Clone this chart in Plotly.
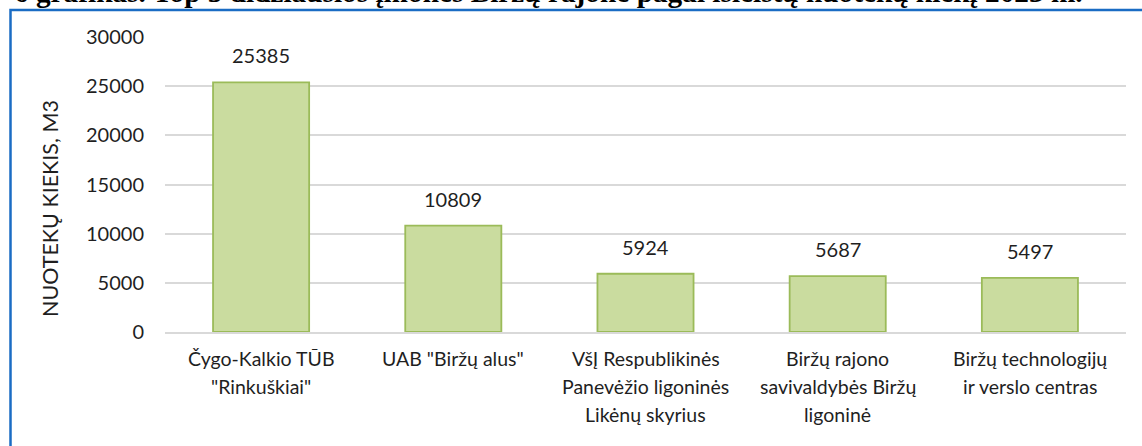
import plotly.graph_objects as go

categories = [
    "Čygo-Kalkio TŪB<br>\"Rinkuškiai\"",
    "UAB \"Biržų alus\"",
    "VšĮ Respublikinės<br>Panevėžio ligoninės<br>Likėnų skyrius",
    "Biržų rajono<br>savivaldybės Biržų<br>ligoninė",
    "Biržų technologijų<br>ir verslo centras",
]
values = [25385, 10809, 5924, 5687, 5497]
y_ticks = [0, 5000, 10000, 15000, 20000, 25000, 30000]
y_ticktext = ["0", "5000", "10000", "15000", "20000", "25000", "30000"]
y_title = "NUOTEKŲ KIEKIS, M3"
caption = "<b>6 grafikas. Top 5 didžiausios įmonės Biržų rajone pagal išleistų nuotekų kiekį 2023 m.</b>"

W, H = 1142, 446
L, R, T, B = 165, 16, 37, 114
pw, ph = W - L - R, H - T - B

def px_x(x):
    return (x - L) / pw

def px_y(y):
    return (H - B - y) / ph

FONT = "Lato"
TXT = "#1f1f1f"

fig = go.Figure()
fig.add_trace(go.Bar(
    x=categories, y=values,
    marker=dict(color="#cadc9f", line=dict(color="#9bbb59", width=1.8)),
    width=0.5,
    hoverinfo="skip",
))

for c, v in zip(categories, values):
    fig.add_annotation(x=c, y=v, text=str(v), showarrow=False,
                       yanchor="bottom", yshift=13,
                       font=dict(family=FONT, size=20, color=TXT))

# category labels, one line per annotation for Excel-like line spacing
for c in categories:
    for i, line in enumerate(c.split("<br>")):
        fig.add_annotation(x=c, y=0, text=line, showarrow=False,
                           xanchor="center", yanchor="middle",
                           yshift=-26 - 28 * i,
                           font=dict(family=FONT, size=19.5, color=TXT))

fig.add_annotation(xref="paper", yref="paper", x=px_x(50), y=px_y(209),
                   text=y_title, textangle=-90, showarrow=False,
                   xanchor="center", yanchor="middle",
                   font=dict(family=FONT, size=21.5, color=TXT))

fig.add_annotation(xref="paper", yref="paper", x=px_x(12), y=px_y(10),
                   text=caption, showarrow=False, xanchor="left", yanchor="bottom",
                   font=dict(family="Liberation Serif", size=29.3, color="#000000"))

fig.add_shape(type="rect", xref="paper", yref="paper",
              x0=px_x(10.5), x1=px_x(1160), y0=px_y(480), y1=px_y(10),
              line=dict(color="#1a6cc4", width=2.5), fillcolor="rgba(0,0,0,0)", layer="above")

fig.update_layout(
    width=W, height=H,
    margin=dict(l=L, r=R, t=T, b=B, pad=0),
    paper_bgcolor="white", plot_bgcolor="white",
    showlegend=False,
    bargap=0.5,
    xaxis=dict(showgrid=False, showline=True, linecolor="#d9d9d9", linewidth=1.5,
               ticks="", showticklabels=False),
    yaxis=dict(range=[0, 30000], tickvals=y_ticks, ticktext=y_ticktext, showgrid=True,
               gridcolor="#d9d9d9", gridwidth=1.5, zeroline=False, showline=False,
               ticks="", tickfont=dict(family=FONT, size=20, color=TXT),
               ticklabelstandoff=20),
)

fig.write_html("out.html", config={"displayModeBar": False},
               post_script="document.body.style.margin='0';")
